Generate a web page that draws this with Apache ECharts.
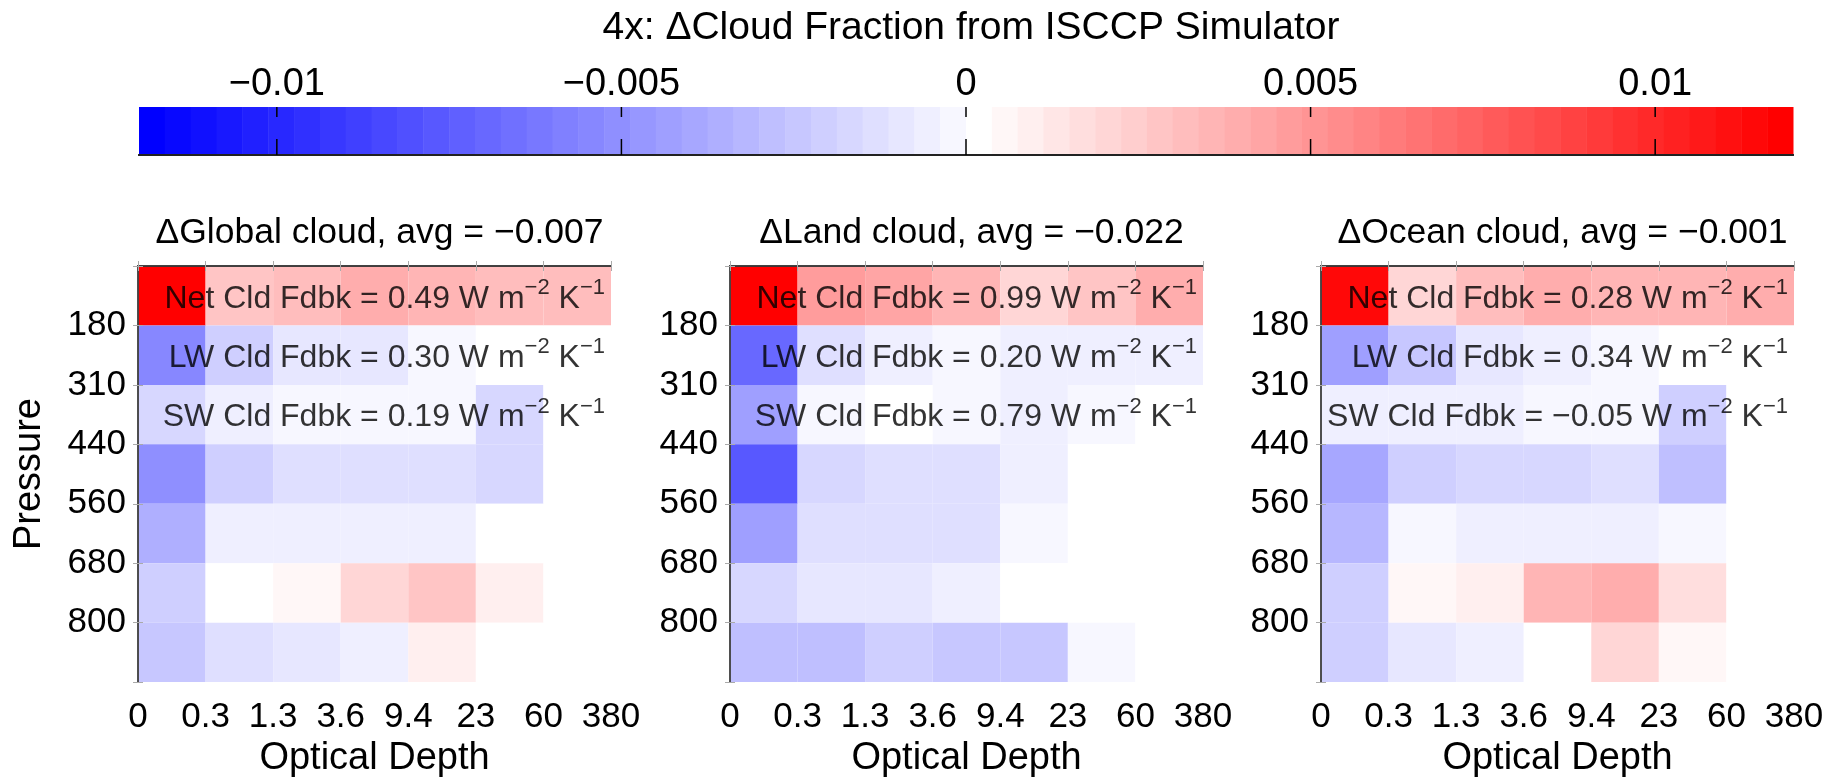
<!DOCTYPE html>
<html>
<head>
<meta charset="utf-8">
<script src="https://cdn.jsdelivr.net/npm/echarts@6/dist/echarts.min.js"></script>
<style>
  html, body { margin: 0; padding: 0; background: #ffffff; }
  #chart { width: 1843px; height: 783px; }
</style>
</head>
<body>
<div id="chart"></div>
<script>
// ISCCP bin edges
const opticalDepthEdges = ['0', '0.3', '1.3', '3.6', '9.4', '23', '60', '380'];
const pressureEdges = ['50', '180', '310', '440', '560', '680', '800', '1000'];

// Panel headers and feedback summaries
const regionNames = ['Global', 'Land', 'Ocean'];
const regionAvg = [-0.007, -0.022, -0.001];
const netFdbk = [0.49, 0.99, 0.28];
const lwFdbk = [0.30, 0.20, 0.34];
const swFdbk = [0.19, 0.79, -0.05];

// Cloud fraction change, rows from top pressure bin (50-180) down to 800-1000,
// columns from optical depth 0-0.3 up to 60-380
const globalCloud = [
  [0.013, 0.0028, 0.0032, 0.0039, 0.0036, 0.0032, 0.0032],
  [-0.0054, -0.0021, -0.0011, -0.0009, -0.0002, 0.0001, 0.0001],
  [-0.0017, -0.0006, -0.0002, -0.0002, -0.0002, -0.0017, 0.0001],
  [-0.0051, -0.0021, -0.0013, -0.0013, -0.0013, -0.0017, 0.0001],
  [-0.0036, -0.0006, -0.0006, -0.0006, -0.0006, 0.0001, 0.0001],
  [-0.0021, 0.0001, 0.0005, 0.0019, 0.0028, 0.0009, 0.0001],
  [-0.0024, -0.0013, -0.0011, -0.0006, 0.0009, 0.0001, 0.0001]
];
const landCloud = [
  [0.019, 0.0047, 0.0043, 0.0036, 0.0019, 0.0028, 0.0039],
  [-0.0069, -0.0013, -0.0006, -0.0002, -0.0006, -0.0006, -0.0006],
  [-0.0044, -0.0002, 0.0001, -0.0002, -0.0006, -0.0002, 0.0001],
  [-0.0077, -0.0017, -0.0013, -0.0013, -0.0006, 0.0001, 0.0001],
  [-0.0044, -0.0013, -0.0013, -0.0013, -0.0002, 0.0001, 0.0001],
  [-0.0017, -0.0010, -0.0010, -0.0006, 0.0001, 0.0001, 0.0001],
  [-0.0029, -0.0029, -0.0021, -0.0025, -0.0025, -0.0002, 0.0001]
];
const oceanCloud = [
  [0.0114, 0.0019, 0.0032, 0.0039, 0.0036, 0.0036, 0.0039],
  [-0.0044, -0.0025, -0.0010, -0.0006, -0.0002, 0.0001, 0.0001],
  [-0.0006, -0.0006, -0.0006, -0.0002, -0.0002, -0.0021, 0.0001],
  [-0.0040, -0.0021, -0.0017, -0.0017, -0.0013, -0.0029, 0.0001],
  [-0.0033, -0.0002, -0.0006, -0.0006, -0.0006, -0.0002, 0.0001],
  [-0.0021, 0.0005, 0.0009, 0.0036, 0.0039, 0.0016, 0.0001],
  [-0.0021, -0.0010, -0.0006, 0.0001, 0.0019, 0.0005, 0.0001]
];
const regionData = [globalCloud, landCloud, oceanCloud];

// Colour scale
const colorbarTicks = [-0.01, -0.005, 0, 0.005, 0.01];
const colorbarTickLabels = ['−0.01', '−0.005', '0', '0.005', '0.01'];
const cloudMin = -0.012;
const cloudMax = 0.012;
const nColors = 64;

const FONT = 'Liberation Sans, Arial, Helvetica, sans-serif';

// Blue-white-red colormap with nColors discrete levels
const step = (cloudMax - cloudMin) / nColors;
const half = nColors / 2;
function levelColor(k) {
  let r, g, b;
  if (k < half) {
    const t = k / half;
    r = g = Math.round(255 * t); b = 255;
  } else {
    const t = (nColors - 1 - k) / (half - 1);
    r = 255; g = b = Math.round(255 * t);
  }
  return `rgb(${r},${g},${b})`;
}
const pieces = [];
const colorbarBands = [];
for (let k = 0; k < nColors; k++) {
  const lo = cloudMin + k * step;
  const hi = lo + step;
  const piece = { color: levelColor(k) };
  if (k > 0) piece.gte = lo;
  if (k < nColors - 1) piece.lt = hi;
  pieces.push(piece);
  colorbarBands.push([lo, hi, (lo + hi) / 2]);
}

// Panel placement
const panelLeft = [138, 730, 1321];
const panelTop = 266;
const panelW = 473;
const panelH = 422;

function minusSign(s) { return s.replace('-', '−'); }
function fdbkText(kind, v) {
  return `{t|${kind} Cld Fdbk = ${minusSign(v.toFixed(2))} W m}{s|−2}{t| K}{s|−1}`;
}

function renderCell(params, api) {
  const x = api.value(0), y = api.value(1);
  const p0 = api.coord([x, y]);
  const p1 = api.coord([x + 1, y + 1]);
  return {
    type: 'rect',
    shape: {
      x: Math.min(p0[0], p1[0]), y: Math.min(p0[1], p1[1]),
      width: Math.abs(p1[0] - p0[0]), height: Math.abs(p1[1] - p0[1])
    },
    style: { fill: api.visual('color') }
  };
}
function renderBand(params, api) {
  const p0 = api.coord([api.value(0), 0]);
  const p1 = api.coord([api.value(1), 1]);
  return {
    type: 'rect',
    shape: {
      x: Math.min(p0[0], p1[0]), y: Math.min(p0[1], p1[1]),
      width: Math.abs(p1[0] - p0[0]) + 0.5, height: Math.abs(p1[1] - p0[1])
    },
    style: { fill: api.visual('color') }
  };
}
// Inward tick marks on the top and bottom edges of the colour bar
function renderBarTick(params, api) {
  const top = api.coord([api.value(0), 1]);
  const bot = api.coord([api.value(0), 0]);
  const st = { stroke: '#000', lineWidth: 1.5 };
  return {
    type: 'group',
    children: [
      { type: 'line', shape: { x1: top[0], y1: top[1], x2: top[0], y2: top[1] + 10 }, style: st },
      { type: 'line', shape: { x1: bot[0], y1: bot[1] - 16, x2: bot[0], y2: bot[1] }, style: st }
    ]
  };
}

const grids = [], xAxes = [], yAxes = [], series = [], titles = [];
const tickStyle = { lineStyle: { color: '#aaaaaa', width: 1 } };

titles.push({
  text: '4x: ΔCloud Fraction from ISCCP Simulator',
  left: 966, top: 4, textAlign: 'center',
  textStyle: { fontFamily: FONT, fontSize: 39, fontWeight: 'normal', color: '#000' }
});

for (let i = 0; i < 3; i++) {
  grids.push({ left: panelLeft[i], top: panelTop, width: panelW, height: panelH });
  titles.push({
    text: `Δ${regionNames[i]} cloud, avg = ${minusSign(regionAvg[i].toFixed(3))}`,
    left: panelLeft[i] + panelW / 2, top: 210, textAlign: 'center',
    textStyle: { fontFamily: FONT, fontSize: 35.5, fontWeight: 'normal', color: '#000' }
  });
  // bottom axis with labels
  xAxes.push({
    type: 'value', gridIndex: i, min: 0, max: 7, interval: 1, position: 'bottom', z: 5,
    name: 'Optical Depth', nameLocation: 'middle', nameGap: 53,
    nameTextStyle: { fontFamily: FONT, fontSize: 38, color: '#000' },
    axisLine: { show: true, lineStyle: { color: '#000', width: 1.5 } },
    axisTick: Object.assign({ show: true, inside: true, length: 5 }, tickStyle),
    axisLabel: { show: true, margin: 18, fontFamily: FONT, fontSize: 35, color: '#000',
      formatter: v => opticalDepthEdges[Math.round(v)] },
    splitLine: { show: false }
  });
  // top frame
  xAxes.push({
    type: 'value', gridIndex: i, min: 0, max: 7, interval: 1, position: 'top', z: 5,
    axisLine: { show: true, lineStyle: { color: '#444', width: 1.5 } },
    axisTick: Object.assign({ show: true, inside: true, length: 5 }, tickStyle),
    axisLabel: { show: false }, splitLine: { show: false }
  });
  yAxes.push({
    type: 'value', gridIndex: i, min: 0, max: 7, interval: 1, inverse: true, position: 'left', z: 5,
    name: i === 0 ? 'Pressure' : '', nameLocation: 'middle', nameGap: 89,
    nameTextStyle: { fontFamily: FONT, fontSize: 38, color: '#000' },
    axisLine: { show: true, lineStyle: { color: '#000', width: 1.5 } },
    axisTick: Object.assign({ show: true, inside: true, length: 5 }, tickStyle),
    axisLabel: { show: true, margin: 12, fontFamily: FONT, fontSize: 35, color: '#000',
      formatter: v => {
        const k = Math.round(v);
        return (k === 0 || k === 7) ? '' : pressureEdges[k];
      } },
    splitLine: { show: false }
  });
  yAxes.push({
    type: 'value', gridIndex: i, min: 0, max: 7, interval: 1, inverse: true, position: 'right', z: 5,
    axisLine: { show: true, lineStyle: { color: '#555', width: 1.5 } },
    axisTick: Object.assign({ show: true, inside: true, length: 5 }, tickStyle),
    axisLabel: { show: false }, splitLine: { show: false }
  });

  const cells = [];
  regionData[i].forEach((row, r) => row.forEach((v, c) => cells.push([c, r, v])));
  series.push({
    type: 'custom', name: regionNames[i], xAxisIndex: 2 * i, yAxisIndex: 2 * i,
    renderItem: renderCell, data: cells, silent: true, z: 2
  });

  const notes = [netFdbk[i], lwFdbk[i], swFdbk[i]];
  const kinds = ['Net', 'LW', 'SW'];
  series.push({
    type: 'scatter', xAxisIndex: 2 * i, yAxisIndex: 2 * i, silent: true, z: 10,
    symbolSize: 0,
    data: [[7, 0.5], [7, 1.5], [7, 2.5]],
    label: {
      show: true, position: 'left', distance: 6, offset: [0, 3],
      formatter: p => fdbkText(kinds[p.dataIndex], notes[p.dataIndex]),
      rich: {
        t: { fontFamily: FONT, fontSize: 32, color: '#000' },
        s: { fontFamily: FONT, fontSize: 22, color: '#000', padding: [0, 0, 22, 0] }
      }
    }
  });
}

// Colour bar
grids.push({ left: 139, top: 107, width: 1654, height: 48 });
xAxes.push({
  type: 'value', gridIndex: 3, min: cloudMin, max: cloudMax, position: 'top', z: 5,
  axisLine: { show: true, lineStyle: { color: '#000', width: 2 } },
  axisTick: { show: false },
  axisLabel: { show: true, margin: 3, customValues: colorbarTicks,
    fontFamily: FONT, fontSize: 38, color: '#000',
    formatter: v => {
      const k = colorbarTicks.findIndex(t => Math.abs(t - v) < 1e-9);
      return k >= 0 ? colorbarTickLabels[k] : '';
    } },
  splitLine: { show: false }
});
xAxes.push({
  type: 'value', gridIndex: 3, min: cloudMin, max: cloudMax, position: 'bottom', z: 5,
  axisLine: { show: true, lineStyle: { color: '#222', width: 2 } },
  axisTick: { show: false },
  axisLabel: { show: false }, splitLine: { show: false }
});
yAxes.push({
  type: 'value', gridIndex: 3, min: 0, max: 1, show: false
});
series.push({
  type: 'custom', name: 'colorbar', xAxisIndex: 6, yAxisIndex: 6,
  renderItem: renderBand, data: colorbarBands, silent: true, z: 2
});
series.push({
  type: 'custom', name: 'colorbarTicks', xAxisIndex: 6, yAxisIndex: 6,
  renderItem: renderBarTick, data: colorbarTicks.map(v => [v]), silent: true, z: 6
});

const chart = echarts.init(document.getElementById('chart'), null, { renderer: 'canvas' });
chart.setOption({
  backgroundColor: '#ffffff',
  animation: false,
  title: titles,
  grid: grids,
  xAxis: xAxes,
  yAxis: yAxes,
  visualMap: {
    type: 'piecewise', show: false, dimension: 2,
    seriesIndex: [0, 2, 4, 6],
    pieces: pieces
  },
  series: series
});
</script>
</body>
</html>
